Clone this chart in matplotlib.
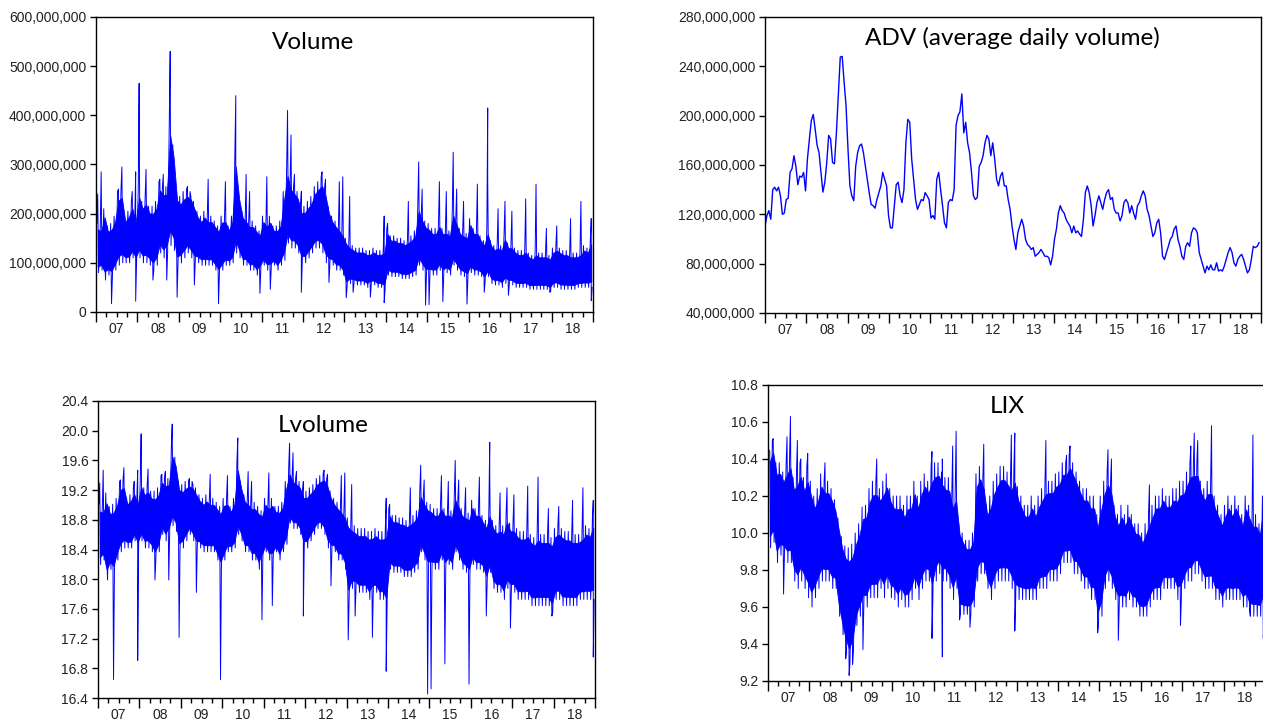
import numpy as np
import matplotlib
matplotlib.use('Agg')
import matplotlib.pyplot as plt
from matplotlib.ticker import FuncFormatter, MultipleLocator

# monthly spread (high / low) of daily volume, millions of shares, Jan 2007 .. Dec 2018
vol_hi = [
    180, 175, 210, 175, 180, 195, 245, 250, 195, 205, 225, 195,
    250, 225, 235, 215, 215, 225, 265, 255, 255, 390, 340, 245,
    235, 245, 250, 245, 225, 205, 195, 205, 195, 195, 185, 175,
    195, 195, 175, 195, 320, 245, 205, 195, 185, 185, 175, 165,
    195, 185, 195, 175, 175, 185, 245, 295, 265, 255, 245, 215,
    215, 225, 235, 255, 265, 275, 255, 215, 195, 185, 175, 165,
    150, 140, 135, 130, 130, 130, 125, 125, 130, 125, 125, 130,
    170, 155, 155, 150, 150, 145, 150, 155, 165, 220, 200, 185,
    180, 170, 170, 185, 170, 170, 165, 210, 190, 170, 165, 160,
    190, 170, 170, 155, 145, 170, 145, 135, 140, 135, 160, 140,
    140, 130, 125, 125, 130, 120, 115, 125, 120, 120, 120, 115,
    130, 135, 130, 125, 125, 120, 120, 120, 125, 135, 130, 150]
vol_lo = [
    80, 85, 65, 75, 70, 85, 95, 100, 100, 100, 110, 100,
    110, 100, 100, 95, 85, 95, 120, 110, 120, 135, 125, 95,
    100, 110, 120, 110, 100, 100, 95, 95, 95, 95, 85, 75,
    85, 95, 95, 100, 120, 110, 95, 95, 85, 85, 75, 85,
    95, 85, 85, 95, 85, 95, 105, 140, 130, 130, 120, 100,
    100, 110, 120, 130, 130, 120, 100, 95, 95, 85, 85, 75,
    50, 58, 58, 55, 55, 55, 50, 55, 55, 50, 50, 45,
    75, 72, 72, 72, 68, 68, 68, 72, 75, 95, 85, 75,
    75, 75, 75, 85, 75, 80, 75, 95, 85, 75, 72, 68,
    80, 75, 75, 72, 62, 72, 58, 55, 55, 50, 58, 55,
    55, 50, 50, 50, 50, 46, 46, 46, 46, 46, 46, 42,
    50, 50, 46, 46, 46, 46, 46, 50, 50, 50, 50, 50]
# single-day spikes and drops: (year, month, millions)
vol_spikes = [
    (2007, 1, 240), (2007, 2, 285), (2007, 5, 17), (2007, 7, 250), (2007, 8, 295),
    (2007, 11, 245), (2007, 12, 285), (2007, 12, 22),
    (2008, 1, 465), (2008, 1, 410), (2008, 3, 290), (2008, 5, 65), (2008, 7, 270),
    (2008, 8, 280), (2008, 9, 65), (2008, 10, 530), (2008, 10, 470), (2008, 12, 30),
    (2009, 3, 255), (2009, 4, 235), (2009, 5, 55), (2009, 9, 270), (2009, 12, 17),
    (2010, 2, 265), (2010, 5, 440), (2010, 5, 300), (2010, 8, 280), (2010, 9, 245),
    (2010, 12, 38),
    (2011, 2, 275), (2011, 3, 46), (2011, 8, 410), (2011, 9, 360), (2011, 10, 280),
    (2011, 12, 245), (2011, 12, 40),
    (2012, 6, 285), (2012, 7, 270), (2012, 8, 60), (2012, 11, 265), (2012, 12, 275),
    (2013, 1, 29), (2013, 2, 235), (2013, 3, 40), (2013, 8, 30), (2013, 12, 195),
    (2013, 12, 19),
    (2014, 1, 180), (2014, 7, 225), (2014, 10, 305), (2014, 11, 250), (2014, 12, 14),
    (2015, 1, 15), (2015, 4, 265), (2015, 5, 21), (2015, 6, 245), (2015, 8, 325),
    (2015, 9, 250), (2015, 11, 225), (2015, 12, 16),
    (2016, 3, 260), (2016, 5, 40), (2016, 6, 415), (2016, 6, 270), (2016, 9, 210),
    (2016, 11, 225), (2016, 12, 34),
    (2017, 1, 205), (2017, 5, 230), (2017, 8, 260), (2017, 11, 170), (2017, 12, 40),
    (2018, 2, 175), (2018, 6, 190), (2018, 9, 225), (2018, 12, 190), (2018, 12, 23)]

# average daily volume, millions, read about twice a month from Jan 2007 to Dec 2018
adv = [
    110.5, 119, 123, 116, 140, 142, 139, 142, 135, 120, 121, 132, 133, 154, 157, 167.5, 159, 144, 151, 150, 154,
    139, 165, 181, 196, 201, 189, 176, 170, 154, 138, 146, 162, 184, 181, 162, 161, 186, 216, 247.5, 248, 227, 208,
    173, 143, 135, 131, 159, 170, 175.6, 177, 170, 159, 148.5, 137.6, 128, 127, 125, 132, 137.6, 143, 154, 148.5, 143, 119,
    109, 109, 127, 144, 146, 135, 129.5, 140, 178, 197, 194.6, 165, 148.5, 132, 124, 128, 132, 131, 137.6, 135, 132, 117,
    119, 116, 148.5, 154, 140, 127, 113, 109, 129.5, 132, 131, 140, 192, 200, 203, 217.6, 186, 194.6, 178, 170, 154, 135,
    132, 133.6, 159, 162, 167.5, 178, 184, 181, 167.5, 178, 165, 148.5, 143, 151, 154, 143, 143, 132, 124,
    110.5, 99.7, 91.5, 105, 110.5, 116, 110.5, 99.7, 95.6, 94, 91.5, 93, 86, 87.5, 89, 91.5, 89, 86, 86, 85, 79,
    86, 99.7, 108, 121, 127, 123, 121, 116, 113, 110.5, 105, 110.5, 105, 106.5, 104, 102, 116, 137.6, 143, 137.6, 127, 110.5,
    119, 129.5, 135, 129.5, 124, 132, 137.6, 140, 132, 133.6, 124, 121, 121, 114.6, 119, 129.5, 132, 129.5, 121, 127, 121, 116,
    127, 129.5, 135, 139, 135, 124, 119, 110.5, 102, 105, 113, 116, 105, 86, 83.4, 89, 94, 99.7, 102, 108, 110.5, 99.7,
    94, 86, 83.4, 94, 97, 94, 105, 109, 108, 105, 89, 83.4, 78, 72.5, 78, 75, 79, 75, 75, 80.7, 74,
    75, 74, 78, 83.4, 89, 93, 89, 80.7, 78, 83.4, 86, 87.5, 83.4, 78, 72.5, 75, 83.4, 94, 93, 94, 97]

# LIX monthly spread
lix_hi = [
    10.45, 10.50, 10.38, 10.38, 10.33, 10.38, 10.42, 10.30, 10.33, 10.38, 10.30, 10.36,
    10.28, 10.20, 10.24, 10.32, 10.28, 10.28, 10.24, 10.18, 10.08, 9.98, 9.93, 9.92,
    9.94, 10.00, 10.05, 10.14, 10.15, 10.24, 10.28, 10.28, 10.24, 10.28, 10.32, 10.24,
    10.20, 10.20, 10.20, 10.15, 10.20, 10.20, 10.28, 10.20, 10.28, 10.32, 10.28, 10.36,
    10.38, 10.38, 10.33, 10.30, 10.30, 10.20, 10.24, 10.05, 10.00, 9.96, 9.96, 10.00,
    10.32, 10.36, 10.30, 10.15, 10.20, 10.28, 10.32, 10.36, 10.36, 10.33, 10.30, 10.36,
    10.25, 10.20, 10.15, 10.15, 10.20, 10.15, 10.20, 10.24, 10.28, 10.28, 10.28, 10.32,
    10.33, 10.38, 10.38, 10.42, 10.38, 10.33, 10.28, 10.24, 10.24, 10.20, 10.20, 10.10,
    10.20, 10.28, 10.33, 10.28, 10.15, 10.10, 10.15, 10.10, 10.15, 10.10, 10.05, 10.05,
    10.00, 10.05, 10.10, 10.15, 10.20, 10.20, 10.24, 10.20, 10.20, 10.24, 10.24, 10.28,
    10.28, 10.33, 10.38, 10.38, 10.38, 10.28, 10.24, 10.28, 10.28, 10.20, 10.15, 10.10,
    10.15, 10.20, 10.15, 10.20, 10.15, 10.10, 10.20, 10.15, 10.10, 10.10, 10.05, 10.20]
lix_lo = [
    9.92, 9.95, 9.84, 9.88, 9.88, 9.84, 9.84, 9.74, 9.70, 9.74, 9.70, 9.65,
    9.60, 9.65, 9.70, 9.74, 9.74, 9.74, 9.70, 9.70, 9.55, 9.45, 9.36, 9.30,
    9.36, 9.50, 9.55, 9.60, 9.60, 9.65, 9.65, 9.65, 9.70, 9.65, 9.70, 9.65,
    9.64, 9.60, 9.64, 9.60, 9.60, 9.64, 9.70, 9.64, 9.70, 9.74, 9.74, 9.64,
    9.74, 9.78, 9.74, 9.74, 9.70, 9.64, 9.70, 9.56, 9.56, 9.56, 9.56, 9.60,
    9.74, 9.78, 9.78, 9.70, 9.64, 9.70, 9.74, 9.74, 9.74, 9.74, 9.70, 9.64,
    9.64, 9.64, 9.64, 9.64, 9.64, 9.64, 9.70, 9.70, 9.70, 9.74, 9.74, 9.74,
    9.78, 9.84, 9.84, 9.84, 9.78, 9.78, 9.74, 9.70, 9.70, 9.64, 9.64, 9.50,
    9.55, 9.70, 9.74, 9.70, 9.64, 9.60, 9.60, 9.60, 9.64, 9.60, 9.60, 9.55,
    9.55, 9.55, 9.60, 9.64, 9.64, 9.64, 9.70, 9.70, 9.70, 9.70, 9.64, 9.64,
    9.70, 9.74, 9.74, 9.78, 9.78, 9.74, 9.70, 9.70, 9.70, 9.64, 9.64, 9.60,
    9.64, 9.64, 9.64, 9.64, 9.64, 9.60, 9.60, 9.55, 9.55, 9.55, 9.55, 9.60]
lix_spikes = [
    (2007, 1, 10.44), (2007, 2, 10.51), (2007, 5, 9.67), (2007, 6, 10.52), (2007, 7, 10.63),
    (2007, 9, 10.50), (2007, 10, 10.40), (2007, 12, 10.43),
    (2008, 5, 10.38), (2008, 11, 9.32), (2008, 12, 9.23),
    (2009, 1, 9.29), (2009, 4, 9.37), (2009, 8, 10.40),
    (2010, 12, 10.44), (2010, 12, 9.43),
    (2011, 3, 9.33), (2011, 3, 10.40), (2011, 6, 10.47), (2011, 7, 10.55), (2011, 8, 9.53),
    (2011, 11, 9.49),
    (2012, 3, 10.48), (2012, 11, 10.53), (2012, 12, 10.54), (2012, 12, 9.47),
    (2013, 9, 10.50),
    (2014, 3, 10.42), (2014, 4, 10.47), (2014, 12, 9.46),
    (2015, 3, 10.45), (2015, 4, 10.40), (2015, 6, 9.42),
    (2016, 3, 10.26), (2016, 12, 9.50),
    (2017, 3, 10.47), (2017, 4, 10.54), (2017, 5, 10.50), (2017, 9, 10.58),
    (2018, 8, 9.58), (2018, 9, 10.53), (2018, 12, 9.43)]

year_labels = ['07', '08', '09', '10', '11', '12', '13', '14', '15', '16', '17', '18']
start_year = 2007
blue = '#0000ff'


def build_series(hi, lo, spikes):
    # zig-zag between the monthly high and low, with the odd days dropped in mid-month
    t, v = [], []
    for i in range(len(hi)):
        base = start_year + i / 12
        t += [base + 0.25 / 12, base + 0.75 / 12]
        v += [hi[i], lo[i]]
    for y, m, val in spikes:
        t.append(y + (m - 0.5) / 12)
        v.append(val)
    order = np.argsort(t, kind='stable')
    return np.array(t)[order], np.array(v)[order]


def draw_daily(ax, hi, lo, spikes, scale=1.0, log=False):
    mid = start_year + (np.arange(len(hi)) + 0.5) / 12
    h = np.array(hi) * scale
    l = np.array(lo) * scale
    t, v = build_series(hi, lo, spikes)
    v = v * scale
    if log:
        h, l, v = np.log(h), np.log(l), np.log(v)
    # the thick middle of the daily cloud; the zig-zag and the single days reach the edges
    span = h - l
    ax.fill_between(mid, l + 0.12 * span, h - 0.12 * span, color=blue, lw=0.6, edgecolor=blue)
    ax.plot(t, v, color=blue, lw=0.7)


adv_v = np.array(adv) * 1e6
adv_t = start_year + np.arange(len(adv)) * 12 / len(adv)

fig = plt.figure(figsize=(12.63, 7.22), dpi=100)


def style_axes(ax, ylim, ystep, fmt, title, tx, ty):
    ax.set_xlim(2007, 2019)
    ax.set_ylim(*ylim)
    ax.yaxis.set_major_locator(MultipleLocator(ystep))
    ax.yaxis.set_major_formatter(FuncFormatter(fmt))
    ax.xaxis.set_major_locator(MultipleLocator(1))
    ax.xaxis.set_minor_locator(MultipleLocator(0.25))
    ax.xaxis.set_major_formatter(FuncFormatter(lambda x, p: ''))
    ax.xaxis.set_minor_formatter(FuncFormatter(
        lambda x, p: year_labels[int(x) - start_year]
        if abs(x % 1 - 0.5) < 1e-6 and 0 <= int(x) - start_year < 12 else ''))
    ax.tick_params(axis='x', which='major', direction='out', length=7, width=1, color='black')
    ax.tick_params(axis='x', which='minor', direction='out', length=3.5, width=1, color='black',
                   pad=4)
    ax.tick_params(axis='y', direction='out', length=4, width=1, color='black', pad=3)
    for lab in ax.get_xticklabels(which='both') + ax.get_yticklabels():
        lab.set_fontfamily('Liberation Sans')
        lab.set_fontsize(10)
        lab.set_color('#222222')
    for s in ax.spines.values():
        s.set_color('black')
        s.set_linewidth(1)
    ax.text(tx, ty, title, transform=ax.transAxes, ha='center', va='baseline',
            fontsize=17.5, family='Lato', color='black')


comma = lambda v, p: f'{v:,.0f}'
one_dec = lambda v, p: f'{v:.1f}'

ax1 = fig.add_axes([0.0760, 0.5679, 0.3935, 0.4086])
draw_daily(ax1, vol_hi, vol_lo, vol_spikes, scale=1e6)
style_axes(ax1, (0, 600e6), 100e6, comma, 'Volume', 0.437, 0.8905)

ax2 = fig.add_axes([0.6057, 0.5665, 0.3927, 0.4100])
ax2.plot(adv_t, adv_v, color=blue, lw=1.0)
style_axes(ax2, (40e6, 280e6), 40e6, comma, 'ADV (average daily volume)', 0.499, 0.904)

ax3 = fig.add_axes([0.0776, 0.0332, 0.3935, 0.4114])
draw_daily(ax3, vol_hi, vol_lo, vol_spikes, scale=1e6, log=True)
style_axes(ax3, (16.4, 20.4), 0.4, one_dec, 'Lvolume', 0.454, 0.896)

ax4 = fig.add_axes([0.6081, 0.0568, 0.3935, 0.4100])
draw_daily(ax4, lix_hi, lix_lo, lix_spikes)
style_axes(ax4, (9.2, 10.8), 0.2, one_dec, 'LIX', 0.482, 0.905)

fig.savefig('out.png', dpi=100)
